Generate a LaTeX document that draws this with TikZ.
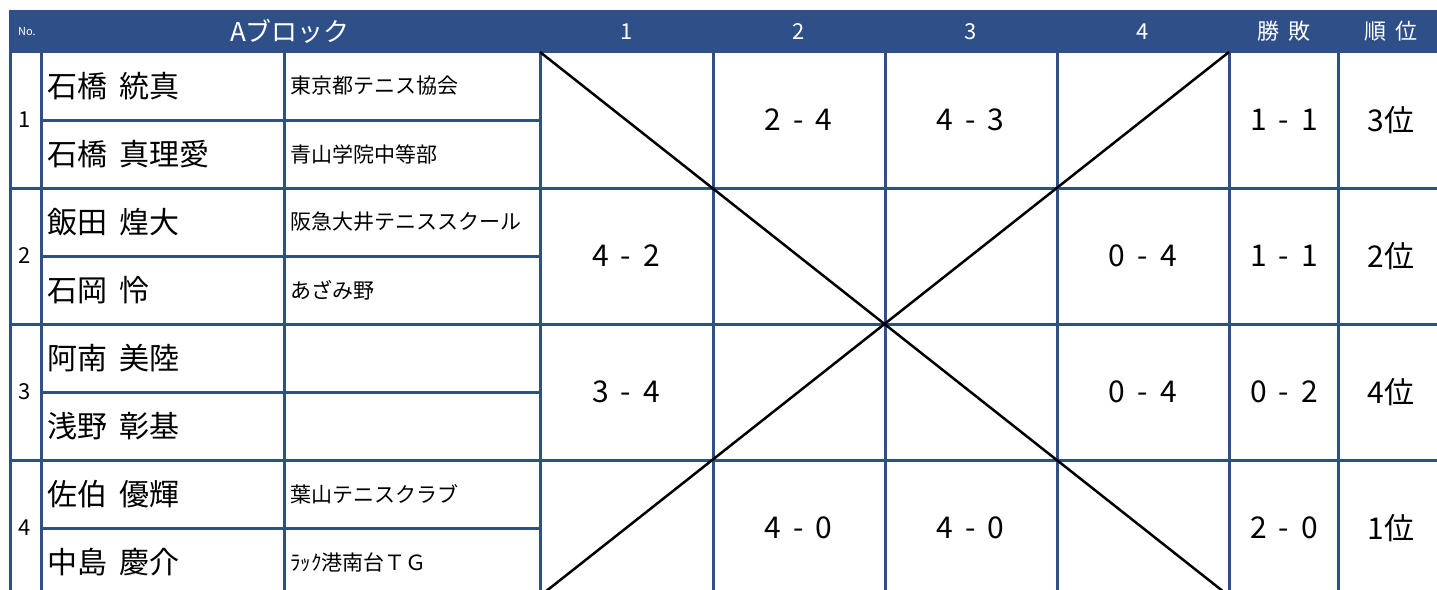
\documentclass[tikz,border=0pt]{standalone}
\usepackage{fontspec}
\setmainfont{Noto Sans CJK JP}[WordSpace=1.8]
\usepackage{tikz}
\usetikzlibrary{positioning}
\definecolor{tblue}{HTML}{2E4F88}

\begin{document}
\begin{tikzpicture}[x=1pt,y=-1pt]

 \tikzset{grid line/.style={draw=tblue, line width=3pt},
 	head cell/.style={text=white, inner sep=0pt, font=\fontsize{22}{22}\selectfont},
 	name cell/.style={anchor=west, inner sep=0pt, font=\fontsize{30}{30}\selectfont},
 	club cell/.style={anchor=west, inner sep=0pt, font=\fontsize{21}{21}\selectfont},
 	score cell/.style={inner sep=0pt, font=\fontsize{30}{30}\selectfont}
 }
 \useasboundingbox (0,0) rectangle (1437,589);
 \clip (0,0) rectangle (1437,589);
 % header bar
 \fill[tblue] (9,10) rectangle (1445,53);
 \node[head cell, font=\fontsize{11}{11}\selectfont] (hNo) at (27,32) {No.};
 \node[head cell, font=\fontsize{26}{26}\selectfont] (hBlock) at (290,31.5) {Aブロック};
 \foreach \c in {1,...,4}
 	\node[head cell] (h\c) at ({540+172.25*(\c-0.5)},31.5) {\c};
 \node[head cell] (hWin) at (1284,31.5) {勝 敗};
 \node[head cell] (hRank) at (1391,31.5) {順 位};
 % grid
 \foreach \x in {10.5,41.5,284,540,713,885,1057,1229,1338}
 	\draw[grid line] (\x,52) -- (\x,600);
 \foreach \y in {188,324,460,596}
 	\draw[grid line] (9,\y) -- (1445,\y);
 \foreach \y in {120,256,392,528}
 	\draw[grid line] (41.5,\y) -- (540,\y);
 % crossed cells
 \coordinate (sNW) at (540,52);
 \coordinate (sNE) at (1229,52);
 \coordinate (sSW) at (540,596);
 \coordinate (sSE) at (1229,596);
 \draw[line width=2.5pt] (sNW) -- (sSE) (sNE) -- (sSW);
 % players
 \foreach \r/\pa/\ca/\pb/\cb/\w/\k in {
 	1/石橋 統真/東京都テニス協会/石橋 真理愛/青山学院中等部/1 - 1/3位,
 	2/飯田 煌大/阪急大井テニススクール/石岡 怜/あざみ野/1 - 1/2位,
 	3/阿南 美陸//浅野 彰基//0 - 2/4位,
 	4/佐伯 優輝/葉山テニスクラブ/中島 慶介/ﾗｯｸ港南台ＴＧ/2 - 0/1位}
 {
 	\node[head cell, text=black] (n\r) at (25,{52+136*(\r-0.5)}) {\r};
 	\node[name cell] (p\r a) at (47,{52+136*(\r-1)+34}) {\pa};
 	\node[name cell] (p\r b) at (47,{52+136*(\r-1)+102}) {\pb};
 	\node[club cell] (c\r a) at (290,{52+136*(\r-1)+34}) {\ca};
 	\node[club cell] (c\r b) at (290,{52+136*(\r-1)+102}) {\cb};
 	\node[score cell] (w\r) at (1284,{52+136*(\r-0.5)}) {\w};
 	\node[score cell] (k\r) at (1391,{52+136*(\r-0.5)}) {\k};
 }
 % scores
 \foreach \r/\c/\s in {1/2/2 - 4, 1/3/4 - 3, 2/1/4 - 2, 2/4/0 - 4,
 	3/1/3 - 4, 3/4/0 - 4, 4/2/4 - 0, 4/3/4 - 0}
 	\node[score cell] (s\r\c) at ({540+172.25*(\c-0.5)},{52+136*(\r-0.5)}) {\s};
\end{tikzpicture}
\end{document}
